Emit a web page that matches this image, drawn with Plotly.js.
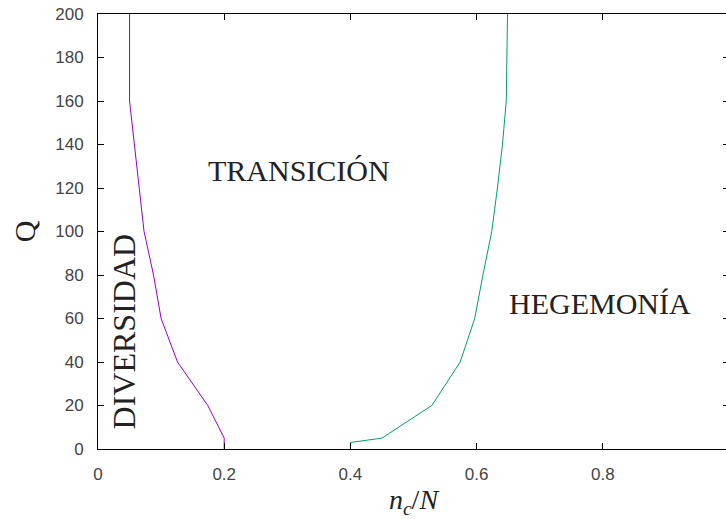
<!DOCTYPE html>
<html>
<head>
<meta charset="utf-8">
<script src="https://cdn.plot.ly/plotly-3.0.1.min.js"></script>
<style>
html,body{margin:0;padding:0;overflow:hidden;background:#fff;width:726px;height:519px;}
#chart{width:731px;height:519px;}
</style>
</head>
<body>
<div id="chart"></div>
<script>
// Boundary between DIVERSIDAD and TRANSICIÓN
const diversityQ  = [0,   5,    20,    40,    60,   80,    100,   120,   140,   160,  200];
const diversityNc = [0.2, 0.2,  0.174, 0.126, 0.1,  0.088, 0.073, 0.065, 0.058, 0.05, 0.05];
// Boundary between TRANSICIÓN and HEGEMONÍA
const hegemonyQ  = [0,   3,   5,    20,    40,    60,    80,    100,   120,   140,   160,   200];
const hegemonyNc = [0.4, 0.4, 0.45, 0.529, 0.574, 0.597, 0.610, 0.624, 0.633, 0.641, 0.647, 0.649];

const xTicks = [0, 0.2, 0.4, 0.6, 0.8, 1];
const yTicks = [0, 20, 40, 60, 80, 100, 120, 140, 160, 180, 200];

const regionLabels = ['TRANSICIÓN', 'HEGEMONÍA', 'DIVERSIDAD'];
const regionX = [0.318, 0.795, 0.041];
const regionY = [128, 67, 54];
const regionAngle = [0, 0, -90];
const regionSize = [30, 30, 32];

const traces = [
  {x: diversityNc, y: diversityQ, mode: 'lines', line: {color: '#9400D3', width: 1}, hoverinfo: 'skip'},
  {x: hegemonyNc, y: hegemonyQ, mode: 'lines', line: {color: '#009E73', width: 1}, hoverinfo: 'skip'}
];

const axisCommon = {
  showline: true, linecolor: '#000', linewidth: 1, mirror: 'allticks',
  ticks: 'inside', ticklen: 6, tickcolor: '#000', tickwidth: 1,
  showgrid: false, zeroline: false,
  tickfont: {family: 'Liberation Sans, Arial, sans-serif', size: 17, color: '#444'},
  ticklabelstandoff: 10
};

const layout = {
  width: 731, height: 519,
  margin: {l: 98, r: 2, t: 14, b: 70},
  paper_bgcolor: '#fff', plot_bgcolor: '#fff',
  showlegend: false,
  xaxis: Object.assign({}, axisCommon, {
    range: [0, 1], tickvals: xTicks, ticktext: xTicks.map(String),
    title: {text: '<i>n</i><sub><i>c</i></sub>/<i>N</i>', font: {family: 'Liberation Serif, serif', size: 28, color: '#222'}, standoff: 6}
  }),
  yaxis: Object.assign({}, axisCommon, {
    range: [0, 200], tickvals: yTicks, ticktext: yTicks.map(String),
    title: {text: 'Q', font: {family: 'Liberation Serif, serif', size: 30, color: '#222'}, standoff: 10}
  }),
  annotations: regionLabels.map((t, i) => ({
    text: t, x: regionX[i], y: regionY[i], xref: 'x', yref: 'y',
    showarrow: false, textangle: regionAngle[i],
    xanchor: 'center', yanchor: 'middle',
    font: {family: 'Liberation Serif, serif', size: regionSize[i], color: '#222'}
  }))
};

Plotly.newPlot('chart', traces, layout, {staticPlot: true, displayModeBar: false});
</script>
</body>
</html>
